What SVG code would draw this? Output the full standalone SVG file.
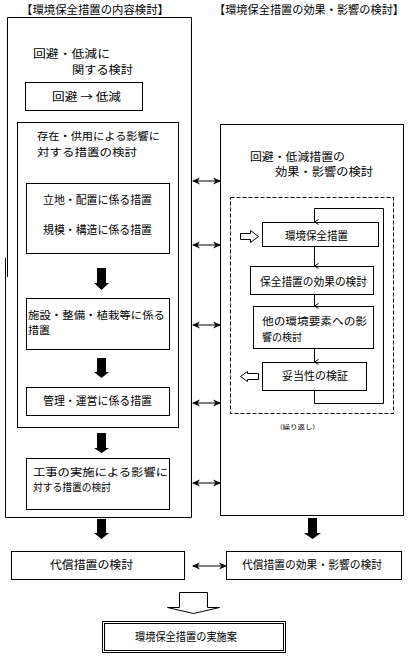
<svg xmlns="http://www.w3.org/2000/svg" width="416" height="660" viewBox="0 0 416 660">
<defs>
<style>
.b{fill:#fff;stroke:#000;stroke-width:1}
.n{fill:none;stroke:#000;stroke-width:1}
.t{font-family:"Noto Sans CJK JP","Noto Sans CJK SC",sans-serif;font-size:11px;fill:#000}
.m{font-size:10.5px}
.h{font-size:11.5px}
.s{font-size:6px}
.d{fill:none;stroke:#000;stroke-width:1;stroke-dasharray:4,2}
.k{fill:#000}
</style>
<marker id="ah" viewBox="0 0 8 8" refX="7" refY="4" markerWidth="8" markerHeight="8" markerUnits="userSpaceOnUse" orient="auto-start-reverse">
<path d="M0,0.5 L8,4 L0,7.5 L2.5,4 z" fill="#000"/>
</marker>
<marker id="v" viewBox="0 0 6 5" refX="3" refY="4.5" markerWidth="6" markerHeight="5" markerUnits="userSpaceOnUse" orient="auto">
<path d="M0.5,0.5 L3,4.5 L5.5,0.5" fill="none" stroke="#000" stroke-width="1"/>
</marker>
</defs>
<rect width="416" height="660" fill="#fff"/>

<!-- titles -->
<text class="t h" x="21" y="14" textLength="148" lengthAdjust="spacingAndGlyphs">【環境保全措置の内容検討】</text>
<text class="t h" x="214" y="14" textLength="190" lengthAdjust="spacingAndGlyphs">【環境保全措置の効果・影響の検討】</text>

<!-- left outer box -->
<g id="left-outer">
<path class="n" d="M7.5,277 V17.5 H191.5 V517.5 H5.5 V258"/>
<text class="t" x="33" y="58" font-size="12" textLength="77" lengthAdjust="spacingAndGlyphs">回避・低減に</text>
<text class="t" x="72" y="74" font-size="12" textLength="61" lengthAdjust="spacingAndGlyphs">関する検討</text>
</g>
<g id="kaihi-box">
<rect class="b" x="25.5" y="82.5" width="117" height="28"/>
<text class="t" x="52" y="101" textLength="69" lengthAdjust="spacingAndGlyphs">回避 → 低減</text>
</g>
<g id="sonzai-box">
<rect class="b" x="17.5" y="122.5" width="161" height="305"/>
<text class="t m" x="37" y="140" textLength="123" lengthAdjust="spacingAndGlyphs">存在・供用による影響に</text>
<text class="t m" x="37" y="155.5" textLength="100" lengthAdjust="spacingAndGlyphs">対する措置の検討</text>
</g>
<g id="ritchi-box">
<rect class="b" x="26.5" y="183.5" width="143" height="70"/>
<text class="t" x="43" y="204" textLength="109" lengthAdjust="spacingAndGlyphs">立地・配置に係る措置</text>
<text class="t" x="43" y="234" textLength="109" lengthAdjust="spacingAndGlyphs">規模・構造に係る措置</text>
</g>
<g id="shisetsu-box">
<rect class="b" x="26.5" y="298.5" width="143" height="51"/>
<text class="t m" x="28" y="318.5" textLength="137" lengthAdjust="spacingAndGlyphs">施設・整備・植栽等に係る</text>
<text class="t m" x="28" y="334" textLength="22" lengthAdjust="spacingAndGlyphs">措置</text>
</g>
<g id="kanri-box">
<rect class="b" x="26.5" y="387.5" width="143" height="28"/>
<text class="t" x="43" y="405" textLength="109" lengthAdjust="spacingAndGlyphs">管理・運営に係る措置</text>
</g>
<g id="koji-box">
<rect class="b" x="26.5" y="458.5" width="143" height="51"/>
<text class="t m" x="33" y="475.5" textLength="135" lengthAdjust="spacingAndGlyphs">工事の実施による影響に</text>
<text class="t m" x="33" y="491" textLength="78" lengthAdjust="spacingAndGlyphs">対する措置の検討</text>
</g>
<g id="daisho-box">
<rect class="b" x="11.5" y="551.5" width="173" height="28"/>
<text class="t" x="50" y="569" textLength="83" lengthAdjust="spacingAndGlyphs">代償措置の検討</text>
</g>

<!-- right side -->
<g id="right-outer">
<rect class="b" x="220.5" y="124.5" width="183" height="391"/>
<text class="t" x="250" y="160.5" font-size="11.5" textLength="95" lengthAdjust="spacingAndGlyphs">回避・低減措置の</text>
<text class="t" x="275" y="176" font-size="11.5" textLength="98" lengthAdjust="spacingAndGlyphs">効果・影響の検討</text>
<rect class="d" x="230.5" y="197.5" width="163" height="216"/>
<text class="t s" x="280" y="429" textLength="35" lengthAdjust="spacingAndGlyphs">(繰り返し)</text>
</g>
<g id="hozen-box">
<rect class="b" x="262.5" y="222.5" width="116" height="24"/>
<text class="t" x="285" y="240" textLength="63" lengthAdjust="spacingAndGlyphs">環境保全措置</text>
</g>
<g id="koka-box">
<rect class="b" x="250.5" y="266.5" width="123" height="28"/>
<text class="t" x="260" y="286" textLength="107" lengthAdjust="spacingAndGlyphs">保全措置の効果の検討</text>
</g>
<g id="hoka-box">
<rect class="b" x="253.5" y="306.5" width="120" height="42"/>
<text class="t m" x="262" y="325" textLength="105" lengthAdjust="spacingAndGlyphs">他の環境要素への影</text>
<text class="t m" x="262" y="340.5" textLength="40" lengthAdjust="spacingAndGlyphs">響の検討</text>
</g>
<g id="dato-box">
<rect class="b" x="262.5" y="362.5" width="104" height="28"/>
<text class="t" x="282" y="380" textLength="66" lengthAdjust="spacingAndGlyphs">妥当性の検証</text>
</g>
<g id="daisho-koka-box">
<rect class="b" x="226.5" y="551.5" width="175" height="28"/>
<text class="t" x="242" y="569" textLength="140" lengthAdjust="spacingAndGlyphs">代償措置の効果・影響の検討</text>
</g>
<g id="jisshi-box">
<rect class="b" x="102.5" y="621.5" width="183" height="31"/>
<rect class="n" x="104.5" y="623.5" width="179" height="27"/>
<text class="t" x="135" y="641" textLength="102" lengthAdjust="spacingAndGlyphs">環境保全措置の実施案</text>
</g>

<!-- connectors -->
<g id="connectors">
<!-- bold down arrows -->
<path class="k" d="M97,268 H106 V283 H109 L101.5,290 L94,283 H97 z"/>
<path class="k" d="M97,358 H106 V372 H109 L101.5,378 L94,372 H97 z"/>
<path class="k" d="M97,433 H106 V448 H109 L101.5,453 L94,448 H97 z"/>
<path class="k" d="M97,519 H106 V533 H109 L101.5,539 L94,533 H97 z"/>
<path class="k" d="M308,518 H317 V533 H321 L312.5,539 L304,533 H308 z"/>
<!-- double-headed arrows -->
<line class="n" x1="193" y1="181" x2="220" y2="181" stroke-width="2" marker-start="url(#ah)" marker-end="url(#ah)"/>
<line class="n" x1="193" y1="245" x2="220" y2="245" stroke-width="2" marker-start="url(#ah)" marker-end="url(#ah)"/>
<line class="n" x1="193" y1="325" x2="220" y2="325" stroke-width="2" marker-start="url(#ah)" marker-end="url(#ah)"/>
<line class="n" x1="193" y1="403" x2="220" y2="403" stroke-width="2" marker-start="url(#ah)" marker-end="url(#ah)"/>
<line class="n" x1="193" y1="483" x2="220" y2="483" stroke-width="2" marker-start="url(#ah)" marker-end="url(#ah)"/>
<line class="n" x1="193" y1="566" x2="226" y2="566" stroke-width="2" marker-start="url(#ah)" marker-end="url(#ah)"/>
<!-- loop -->
<path class="n" d="M314.5,390.5 V403.5 H383.5 V208.5 H314.5 V222" marker-end="url(#v)"/>
<line class="n" x1="314.5" y1="247" x2="314.5" y2="266" marker-end="url(#v)"/>
<line class="n" x1="314.5" y1="295" x2="314.5" y2="306" marker-end="url(#v)"/>
<line class="n" x1="314.5" y1="349" x2="314.5" y2="362" marker-end="url(#v)"/>
<!-- hollow arrows -->
<path class="b" d="M240.5,233.5 H250.5 V230.5 L258.5,236.5 L250.5,242.5 V239.5 H240.5 z"/>
<path class="b" d="M240.5,376.5 L247.5,371.5 V373.5 H258.5 V379.5 H247.5 V381.5 z"/>
<path class="b" d="M179.5,592.5 H207.5 V607.5 H219.5 L193.5,613.5 L167.5,607.5 H179.5 z"/>
</g>
</svg>
